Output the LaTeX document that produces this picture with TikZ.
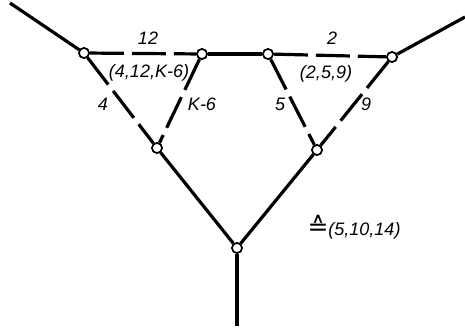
\documentclass[tikz,border=0pt]{standalone}
\usepackage{fontspec}
\setmainfont{Liberation Sans}
\newfontfamily\symfont{DejaVu Sans}
\begin{document}
\begin{tikzpicture}[x=1pt,y=-1pt,
  vtx/.style={circle,draw,fill=white,line width=1.6pt,inner sep=0pt,minimum size=10pt},
  solidedge/.style={line width=3.2pt},
  dashedge/.style={line width=3.2pt,dash pattern=on 34pt off 8pt},
  lbl/.style={font=\fontsize{18}{20}\selectfont\itshape,inner sep=0pt}]
\useasboundingbox (0,0) rectangle (465,331);
\coordinate (L) at (10,3);
\coordinate (R) at (465,17);
\coordinate (Bot) at (237,326);
\node[vtx] (A) at (84,53) {};
\node[vtx] (B) at (202,54) {};
\node[vtx] (C) at (268,54) {};
\node[vtx] (D) at (392,57) {};
\node[vtx] (E) at (157,148) {};
\node[vtx] (F) at (317,150) {};
\node[vtx] (G) at (237,248) {};
\draw[solidedge] (L) -- (A);
\draw[solidedge] (D) -- (R);
\draw[solidedge] (B) -- (C);
\draw[solidedge] (E) -- (G);
\draw[solidedge] (F) -- (G);
\draw[solidedge] (G) -- (Bot);
\draw[dashedge] (A) -- (B);
\draw[dashedge] (C) -- (D);
\draw[dashedge] (A) -- (E);
\draw[dashedge] (B) -- (E);
\draw[dashedge] (C) -- (F);
\draw[dashedge] (D) -- (F);
\foreach \n in {A,B,C,D,E,F,G} \node[vtx] at (\n) {};
\node[lbl] (l12) at (148,38) {12};
\node[lbl] (l4126) at (149,73) {(4,12,K-6)};
\node[lbl] (l4) at (103,104) {4};
\node[lbl] (lk6) at (202,104) {K-6};
\node[lbl] (l5) at (280,104) {5};
\node[lbl] (l2) at (332,38) {2};
\node[lbl] (l259) at (326,74) {(2,5,9)};
\node[lbl] (l9) at (366,104) {9};
\node[lbl] (lres) at (354,227) {{\symfont\upshape\fontsize{25}{26}\selectfont ≙}(5,10,14)};
\end{tikzpicture}
\end{document}
